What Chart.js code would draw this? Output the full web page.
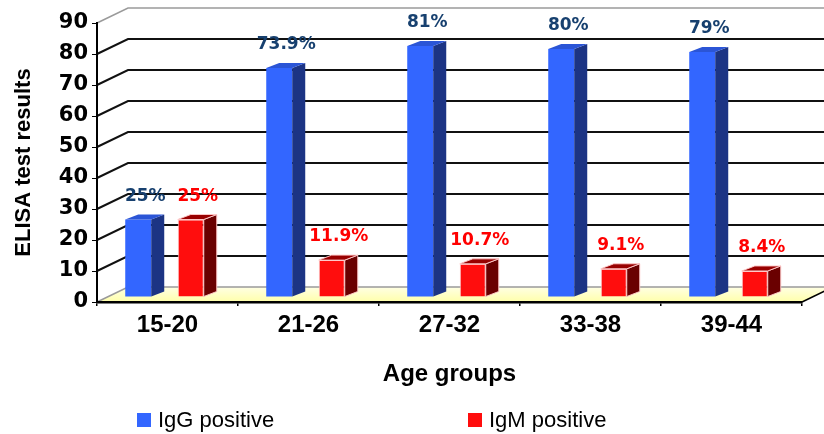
<!DOCTYPE html>
<html><head><meta charset="utf-8">
<script src="https://cdn.jsdelivr.net/npm/chart.js@4/dist/chart.umd.min.js"></script>
<style>html,body{margin:0;padding:0;background:#fff;}canvas{display:block}</style>
</head><body>
<canvas id="c" width="824" height="434"></canvas>
<script>
// ---- data ----
const categories = ['15-20', '21-26', '27-32', '33-38', '39-44'];
const iggValues = [25, 73.9, 81, 80, 79];
const igmValues = [25, 11.9, 10.7, 9.1, 8.4];
const yTickValues = [0, 10, 20, 30, 40, 50, 60, 70, 80, 90];
const seriesNames = ['IgG positive', 'IgM positive'];

// ---- styling ----
const WALL_DX = 31, WALL_DY = 15;     // back wall offset
const BAR_DX = 13, BAR_DY = 5;        // bar depth
const SHIFT_X = -3, SHIFT_Y = -5;     // bars sit inside the floor
const frontColors = ['#3366ff', '#ff0d0d'];
const faces = [
  {side: '#1c3484', top: '#2b55d6', label: '#17406f', edge: null},
  {side: '#6a0000', top: '#980000', label: '#ff0000', edge: 'rgba(255,200,200,0.95)'}
];

const bg3d = {
  id: 'bg3d',
  beforeDraw(chart) {
    const ctx = chart.ctx, ys = chart.scales.y, xs = chart.scales.x;
    const L = xs.left, R = xs.right, W = chart.width;
    const y0 = ys.getPixelForValue(0);
    ctx.save();
    // floor
    const g = ctx.createLinearGradient(0, y0 - WALL_DY, 0, y0);
    g.addColorStop(0, '#ffffe4');
    g.addColorStop(1, '#ffffaa');
    ctx.fillStyle = g;
    ctx.beginPath();
    ctx.moveTo(L, y0); ctx.lineTo(R, y0);
    ctx.lineTo(R + WALL_DX, y0 - WALL_DY); ctx.lineTo(L + WALL_DX, y0 - WALL_DY);
    ctx.closePath(); ctx.fill();
    // right edge of floor
    ctx.strokeStyle = '#000'; ctx.lineWidth = 1.5;
    ctx.beginPath(); ctx.moveTo(R, y0); ctx.lineTo(R + WALL_DX, y0 - WALL_DY); ctx.stroke();
    // grid
    yTickValues.forEach(v => {
      const yf = ys.getPixelForValue(v), yb = yf - WALL_DY;
      const edge = (v === ys.min || v === ys.max);
      ctx.strokeStyle = edge ? '#9a9a9a' : '#111';
      ctx.lineWidth = edge ? 1.5 : 2;
      ctx.beginPath();
      ctx.moveTo(L, yf); ctx.lineTo(L + WALL_DX, yb); ctx.lineTo(W, yb);
      ctx.stroke();
    });
    ctx.restore();
  },
  beforeDatasetsDraw(chart) {
    chart.ctx.save();
    chart.ctx.translate(SHIFT_X, SHIFT_Y);
  },
  afterDatasetsDraw(chart) {
    const ctx = chart.ctx;
    chart.data.datasets.forEach((ds, di) => {
      const meta = chart.getDatasetMeta(di);
      const f = faces[di];
      meta.data.forEach((el, i) => {
        const {x, y, width, base} = el.getProps(['x', 'y', 'width', 'base'], true);
        const l = x - width / 2, r = x + width / 2;
        // side
        ctx.fillStyle = f.side;
        ctx.beginPath();
        ctx.moveTo(r, y); ctx.lineTo(r + BAR_DX, y - BAR_DY);
        ctx.lineTo(r + BAR_DX, base - BAR_DY); ctx.lineTo(r, base);
        ctx.closePath(); ctx.fill();
        if (f.edge) { ctx.strokeStyle = f.edge; ctx.lineWidth = 1; ctx.stroke(); }
        // top
        ctx.fillStyle = f.top;
        ctx.beginPath();
        ctx.moveTo(l, y); ctx.lineTo(r, y);
        ctx.lineTo(r + BAR_DX, y - BAR_DY); ctx.lineTo(l + BAR_DX, y - BAR_DY);
        ctx.closePath(); ctx.fill();
        if (f.edge) { ctx.strokeStyle = f.edge; ctx.lineWidth = 1; ctx.stroke(); }
        // value label
        ctx.fillStyle = f.label;
        ctx.font = 'bold 17px "DejaVu Sans", Verdana, sans-serif';
        ctx.textAlign = 'center';
        ctx.textBaseline = 'alphabetic';
        ctx.fillText(ds.data[i] + '%', x + 7, y - BAR_DY - 14);
      });
    });
    ctx.restore();
  },
  afterDraw(chart) {
    // legend
    const ctx = chart.ctx;
    const items = [{x: 137}, {x: 468}];
    ctx.save();
    ctx.font = '22px "Liberation Sans", Arial, sans-serif';
    ctx.textBaseline = 'alphabetic';
    ctx.textAlign = 'left';
    chart.data.datasets.forEach((ds, di) => {
      const it = items[di];
      ctx.fillStyle = frontColors[di];
      ctx.fillRect(it.x, 413, 14, 14);
      ctx.fillStyle = '#000';
      ctx.fillText(ds.label, it.x + 21, 427);
    });
    ctx.restore();
  }
};

new Chart(document.getElementById('c'), {
  type: 'bar',
  data: {
    labels: categories,
    datasets: [
      {label: seriesNames[0], data: iggValues, backgroundColor: frontColors[0], borderWidth: 0,
       categoryPercentage: 0.745, barPercentage: 0.495},
      {label: seriesNames[1], data: igmValues, backgroundColor: frontColors[1],
       borderColor: 'rgba(255,200,200,0.95)', borderWidth: 1,
       categoryPercentage: 0.745, barPercentage: 0.495}
    ]
  },
  options: {
    responsive: false,
    animation: false,
    devicePixelRatio: 1,
    layout: {padding: {top: 23, right: 22, left: 0, bottom: 0}},
    plugins: {legend: {display: false}, tooltip: {enabled: false}},
    scales: {
      y: {
        min: 0, max: 90,
        afterBuildTicks: s => { s.ticks = yTickValues.map(v => ({value: v})); },
        afterFit: s => { s.width = 97; },
        ticks: {color: '#000', padding: 4, font: {family: '"DejaVu Sans", Verdana, sans-serif', size: 21, weight: 'bold'}},
        grid: {drawOnChartArea: false, color: '#000', tickLength: 5, lineWidth: 1},
        border: {display: true, color: '#000', width: 2},
        title: {display: true, text: 'ELISA test results', color: '#000',
                font: {family: '"Liberation Sans", Arial, sans-serif', size: 22, weight: 'bold'},
                padding: {top: 11, bottom: 0}}
      },
      x: {
        offset: true,
        afterFit: s => { s.height = 132; },
        ticks: {color: '#000', padding: 5, font: {family: '"Liberation Sans", Arial, sans-serif', size: 24, weight: 'bold'}},
        grid: {offset: true, drawOnChartArea: false, color: '#000', tickLength: 4, lineWidth: 1.5},
        border: {display: true, color: '#000', width: 2.5},
        title: {display: true, text: 'Age groups', color: '#000',
                font: {family: '"Liberation Sans", Arial, sans-serif', size: 24, weight: 'bold'},
                padding: {top: 0, bottom: 45}}
      }
    }
  },
  plugins: [bg3d]
});
</script>
</body></html>
